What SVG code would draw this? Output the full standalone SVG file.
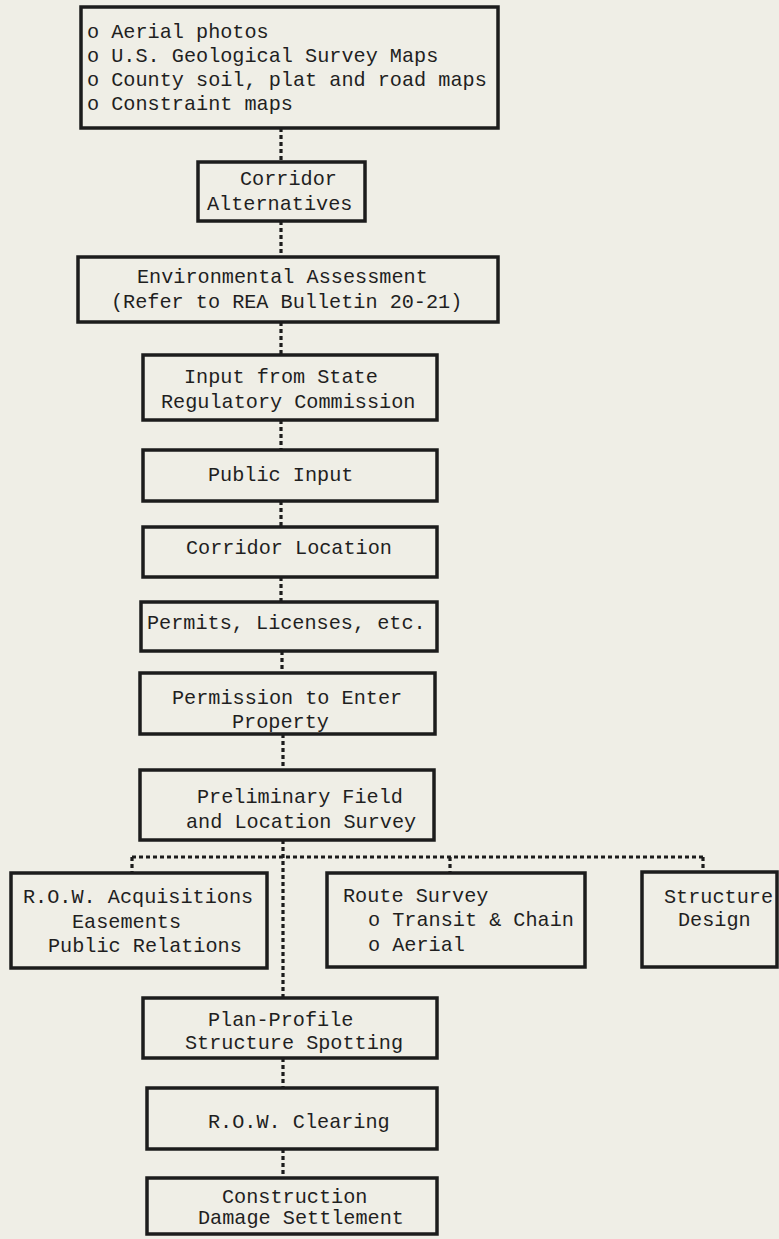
<svg xmlns="http://www.w3.org/2000/svg" width="779" height="1239" viewBox="0 0 779 1239">
<style>
.bx{fill:none;stroke:#1c1c1c;stroke-width:3.5}
.t{font-family:"Liberation Mono","DejaVu Sans Mono",monospace;font-size:20.2px;fill:#1f1f1f}
.c{fill:none;stroke:#1c1c1c;stroke-width:3.2;stroke-dasharray:4 3}
</style>
<rect width="779" height="1239" fill="#efeee6"/>
<g id="connectors">
<path class="c" d="M281 128V162M281 221V257M281 322V355M281 420V450M281 501V527M281 577V602M282 651V673M283 734V770M283 840V998M283 1058V1088M283 1149V1178"/>
<path class="c" d="M132 857H703M132 857V873M450 857V873M703 857V872"/>
</g>
<g id="sources"><rect class="bx" x="81" y="7" width="417" height="121"/>
<text class="t" x="87" y="38">o Aerial photos</text>
<text class="t" x="87" y="62">o U.S. Geological Survey Maps</text>
<text class="t" x="87" y="86">o County soil, plat and road maps</text>
<text class="t" x="87" y="110">o Constraint maps</text></g>
<g id="corridor-alternatives"><rect class="bx" x="198" y="162" width="167" height="59"/>
<text class="t" x="240" y="185">Corridor</text>
<text class="t" x="207" y="210">Alternatives</text></g>
<g id="environmental-assessment"><rect class="bx" x="78" y="257" width="420" height="65"/>
<text class="t" x="137" y="283">Environmental Assessment</text>
<text class="t" x="111" y="308">(Refer to REA Bulletin 20-21)</text></g>
<g id="state-input"><rect class="bx" x="143" y="355" width="294" height="65"/>
<text class="t" x="184" y="383">Input from State</text>
<text class="t" x="161" y="408">Regulatory Commission</text></g>
<g id="public-input"><rect class="bx" x="143" y="450" width="294" height="51"/>
<text class="t" x="208" y="481">Public Input</text></g>
<g id="corridor-location"><rect class="bx" x="143" y="527" width="294" height="50"/>
<text class="t" x="186" y="554">Corridor Location</text></g>
<g id="permits"><rect class="bx" x="141" y="602" width="296" height="49"/>
<text class="t" x="147" y="629">Permits, Licenses, etc.</text></g>
<g id="permission"><rect class="bx" x="140" y="673" width="295" height="61"/>
<text class="t" x="172" y="704">Permission to Enter</text>
<text class="t" x="232" y="728">Property</text></g>
<g id="preliminary-survey"><rect class="bx" x="140" y="770" width="294" height="70"/>
<text class="t" x="197" y="803">Preliminary Field</text>
<text class="t" x="186" y="828">and Location Survey</text></g>
<g id="row-acquisitions"><rect class="bx" x="11" y="873" width="256" height="95"/>
<text class="t" x="23" y="903">R.O.W. Acquisitions</text>
<text class="t" x="72" y="928">Easements</text>
<text class="t" x="48" y="952">Public Relations</text></g>
<g id="route-survey"><rect class="bx" x="327" y="873" width="258" height="94"/>
<text class="t" x="343" y="902">Route Survey</text>
<text class="t" x="368" y="926">o Transit &amp; Chain</text>
<text class="t" x="368" y="951">o Aerial</text></g>
<g id="structure-design"><rect class="bx" x="642" y="872" width="135" height="95"/>
<text class="t" x="664" y="903">Structure</text>
<text class="t" x="678" y="926">Design</text></g>
<g id="plan-profile"><rect class="bx" x="143" y="998" width="294" height="60"/>
<text class="t" x="208" y="1026">Plan-Profile</text>
<text class="t" x="185" y="1049">Structure Spotting</text></g>
<g id="row-clearing"><rect class="bx" x="147" y="1088" width="290" height="61"/>
<text class="t" x="208" y="1128">R.O.W. Clearing</text></g>
<g id="construction"><rect class="bx" x="147" y="1178" width="290" height="56"/>
<text class="t" x="222" y="1203">Construction</text>
<text class="t" x="198" y="1224">Damage Settlement</text></g>
</svg>
